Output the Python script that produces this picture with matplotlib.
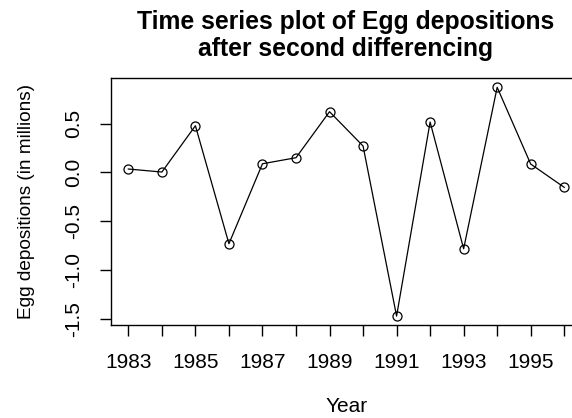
import matplotlib
matplotlib.use("Agg")
import matplotlib.pyplot as plt
import numpy as np

plt.rcParams['font.family'] = ['Liberation Sans', 'DejaVu Sans']
plt.rcParams['axes.unicode_minus'] = False

# second-differenced egg depositions, in millions
years = [1983, 1984, 1985, 1986, 1987, 1988, 1989,
         1990, 1991, 1992, 1993, 1994, 1995, 1996]
eggs_diff2 = [0.034, 0.003, 0.478, -0.732, 0.088, 0.150, 0.622,
              0.270, -1.474, 0.516, -0.784, 0.872, 0.085, -0.154]
y_ticks = [-1.5, -1.0, -0.5, 0.0, 0.5]
x_ticklabels = [str(y) if y % 2 == 1 else '' for y in years]

t = np.array(years)
s = np.array(eggs_diff2)

fig = plt.figure(figsize=(5.72, 4.18), dpi=100)
# axes run a little past the right edge, like the original device
ax = fig.add_axes([0.1939, 0.222, 0.823, 0.591])

ax.plot(t, s, color='black', linewidth=0.9, marker='o', markersize=6.5,
        markerfacecolor='none', markeredgecolor='black', markeredgewidth=0.9)

# R style 4% padding on both axes
xr = t.max() - t.min()
yr = s.max() - s.min()
ax.set_xlim(t.min() - 0.04 * xr, t.max() + 0.04 * xr)
ax.set_ylim(s.min() - 0.04 * yr, s.max() + 0.04 * yr)

ax.set_xticks(years)
ax.set_xticklabels(x_ticklabels)
ax.set_yticks(y_ticks)
ax.set_yticklabels(['%.1f' % v for v in y_ticks], rotation=90, va='center')

ax.tick_params(axis='both', direction='out', length=8, width=1.0,
               labelsize=15, colors='black')
ax.tick_params(axis='x', pad=12)
ax.tick_params(axis='y', pad=12)
for sp in ax.spines.values():
    sp.set_linewidth(1.0)

ax.set_xlabel('Year', fontsize=15, va='center')
ax.set_ylabel('Egg depositions (in millions)', fontsize=13.7, va='center')
ax.xaxis.set_label_coords(0.5, -0.331)
ax.yaxis.set_label_coords(-0.179, 0.5)

fig.text(0.605, 0.915, 'Time series plot of Egg depositions\nafter second differencing',
         ha='center', va='center', fontsize=17.8, fontweight='bold',
         linespacing=1.12)

fig.savefig('out.png', dpi=100)
